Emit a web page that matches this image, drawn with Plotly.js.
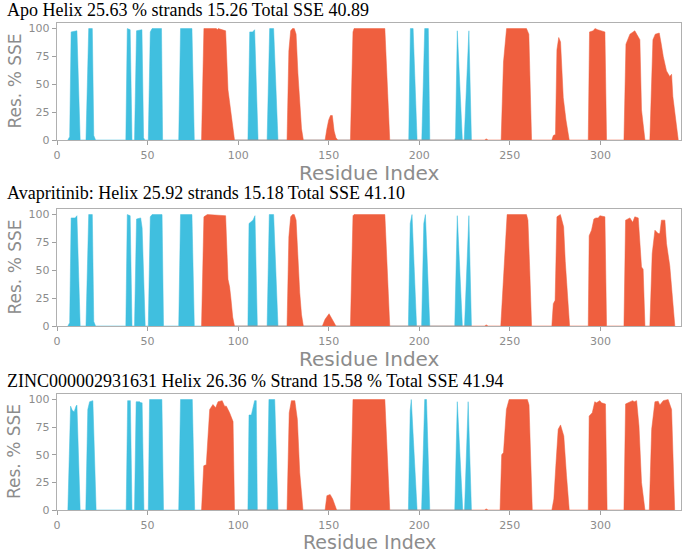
<!DOCTYPE html>
<html>
<head>
<meta charset="utf-8">
<script src="https://cdn.plot.ly/plotly-3.0.1.min.js"></script>
<style>
  body { margin: 0; background: #ffffff; }
  #chart { width: 685px; height: 555px; }
</style>
</head>
<body>
<div id="chart"></div>
<script>
// panel titles
var panelTitles = [
  "Apo Helix 25.63 % strands 15.26 Total SSE 40.89",
  "Avapritinib: Helix 25.92 strands 15.18 Total SSE 41.10",
  "ZINC000002931631 Helix 26.36 % Strand 15.58 % Total SSE 41.94"
];

// Apo : strands (blue)
var apoStrandX = [6, 7, 7.8, 11, 12.8,  16, 17.5, 19.5, 20.3, 21.3,  38, 38.8, 40.4, 41.4,
  42.8, 43.9, 46.9, 47.8, 48.5,  50.4, 51.5, 52.5, 57.7, 58.3,  67.2, 68.2, 74.5, 75.8,
  105.4, 106.4, 108, 109.1, 111,  116, 117.4, 119.6, 122,  194.2, 195.1, 196.6, 198.8,
  201.4, 203, 205, 205.8,  219.6, 220, 221, 223.8,  224.8, 227.4, 228.8];
var apoStrandY = [0, 3, 97, 98, 0,  0, 100, 100, 4, 0,  0, 100, 99, 0,
  0, 98, 99, 2, 0,  0, 97, 100, 100, 0,  0, 100, 100, 0,
  0, 97, 97, 99, 0,  0, 100, 100, 0,  0, 100, 100, 0,
  0, 100, 100, 0,  0, 2, 98, 0,  0, 98, 0];
// Apo : helix (red)
var apoHelixX = [79.8, 81.1, 88, 88.5, 89, 93.1, 94.4, 95, 96, 97, 98,
  127, 128, 129, 130, 131, 132, 133, 134, 135, 136,
  148, 149, 150, 151, 152, 153, 154, 155,
  162, 163.4, 164, 181, 183.7,  236, 237, 238,
  245.2, 246.5, 248.2, 259.2, 260.5, 262,
  273.2, 274, 275.2, 276, 277, 278, 279.5, 281, 282.8,
  293.3, 294, 296, 297, 298.5, 300, 302.5, 303.4,
  313, 314.1, 316.3, 319, 321.8, 322.7, 324.6,
  327.3, 329, 330.3, 332.5, 333.5, 334.7, 336.5, 338.3, 339.3, 340, 343];
var apoHelixY = [0, 100, 100, 99, 100, 98, 45, 38, 25, 10, 0,
  0, 80, 98, 100, 100, 95, 60, 30, 10, 0,
  0, 10, 18, 22, 22, 8, 2, 0,
  0, 97, 100, 100, 0,  0, 1, 0,
  0, 70, 100, 100, 95, 0,
  0, 4, 5, 81, 92, 88, 38, 18, 0,
  0, 97, 98, 100, 99, 98, 97, 0,
  0, 86, 95, 98, 90, 27, 0,
  0, 90, 95, 96, 87, 75, 62, 57, 59, 39, 0];

// Avapritinib : strands
var avaStrandX = [6, 7, 7.8, 10, 11, 12.8,  16, 17.5, 19.5, 20.3, 21.3,  38, 38.8, 40.4, 41.4,
  42.8, 43.9, 46.2, 47, 48, 48.7,  50.4, 51.5, 52.5, 58, 58.8,  67.2, 68.2, 74.5, 75.8,
  105.4, 106, 108.2, 109.3, 110.6,  116, 117.2, 119.6, 122,  194, 195, 196, 198.5,
  201.3, 202.5, 203.4, 205.8,  219.6, 221, 223.8,  225, 227.4, 228.8];
var avaStrandY = [0, 3, 97, 97, 99, 0,  0, 100, 100, 4, 0,  0, 100, 99, 0,
  0, 96, 97, 88, 20, 0,  0, 98, 100, 100, 0,  0, 100, 100, 0,
  0, 92, 95, 99, 0,  0, 100, 100, 0,  0, 92, 100, 0,
  0, 92, 100, 0,  0, 99, 0,  0, 99, 0];
// Avapritinib : helix
var avaHelixX = [79.8, 81.1, 83, 93.1, 94.4, 95.3, 96, 97, 98,
  127, 128, 129, 130, 131, 132, 133, 134, 135, 136,
  146.5, 148, 150.2, 152.4, 154,
  162, 163.4, 164, 181, 183.7,  236, 237, 238,
  245, 246.4, 247.7, 248.5, 259.2, 260, 261, 262,
  273.2, 274, 275, 276, 277.9, 279.7, 280.6, 283,
  293.3, 293.8, 295.1, 296.4, 297.5, 298.8, 299.7, 302.5, 303.4,
  313, 313.9, 316.3, 317.8, 319, 320.9, 322.7, 323.6, 324.6,
  327.3, 328.6, 330.1, 331.9, 332.8, 333.7, 335.6, 336.5, 338.3, 341.1];
var avaHelixY = [0, 98, 100, 99, 42, 35, 25, 8, 0,
  0, 80, 98, 100, 100, 95, 60, 30, 10, 0,
  0, 6, 11, 4, 0,
  0, 99, 100, 100, 0,  0, 1, 0,
  0, 40, 86, 100, 100, 95, 50, 0,
  0, 20, 23, 98, 100, 89, 58, 0,
  0, 81, 86, 96, 97, 97, 99, 98, 0,
  0, 95, 97, 93, 98, 97, 53, 51, 0,
  0, 65, 86, 83, 83, 95, 95, 74, 54, 0];

// ZINC000002931631 : strands
var zincStrandX = [6, 7.5, 8.5, 9.5, 10.5, 11, 12.8,  15.9, 17, 18, 19.8, 21.6,  38.2, 39, 40.5, 41.4,
  42.8, 43.7, 45.6, 46.3, 47, 48,  50.4, 51.1, 57.9, 58.8,  67.2, 68.2, 74.7, 76,
  105.4, 106, 107.3, 109.1, 110, 110.6,  116, 117, 120.2, 122,  194, 195, 195.6, 198.8,
  201.3, 203, 204, 205.8,  219.6, 221, 224,  225, 227, 228.8];
var zincStrandY = [0, 94, 90, 89, 94, 95, 0,  0, 91, 98, 99, 0,  0, 99, 99, 0,
  0, 98, 98, 97, 97, 0,  0, 100, 100, 0,  0, 100, 100, 0,
  0, 86, 86, 99, 99, 0,  0, 100, 100, 0,  0, 90, 100, 0,
  0, 100, 100, 0,  0, 98, 0,  0, 98, 0];
// ZINC000002931631 : helix
var zincHelixX = [79.8, 81, 82.4, 84.3, 86.1, 87.6, 88.9, 91.2, 92.5, 93.5, 95.3, 96.8, 97.2, 98,
  127, 128.2, 129.4, 131.3, 132.7, 134, 135.8,
  148, 149, 150.8, 152.2, 154.4,
  162, 163.4, 181, 183.7,  236, 237, 238,
  244.6, 245.5, 246.5, 248.1, 249.6, 259.7, 260.6, 262.4,
  273.2, 274.3, 275.4, 276.7, 278, 279.8, 281.3, 282.8,
  293.3, 293.8, 295.5, 296.9, 297.8, 299.7, 300.6, 302.8, 303.7,
  313, 313.9, 316.3, 317.8, 318.7, 320, 321.3, 322.7, 324.6,
  327, 328.3, 330.1, 331.9, 332.8, 334.7, 337.4, 339.3, 341];
var zincHelixY = [0, 40, 41, 91, 95.5, 92.5, 98, 99, 94, 94, 88, 82, 80, 0,
  0, 88, 99, 99, 82, 34, 0,
  0, 13, 14, 10, 0,
  0, 100, 100, 0,  0, 1, 0,
  0, 50, 52, 91, 100, 100, 95, 0,
  0, 10, 40, 73, 77, 67, 31, 0,
  0, 85, 88, 98, 97, 99, 97, 96, 0,
  0, 96, 98, 99, 98, 99, 76, 25, 0,
  0, 73, 98, 98.5, 95, 99, 100, 91, 0];

var xTickVals = [0, 50, 100, 150, 200, 250, 300];
var yTickVals = [0, 25, 50, 75, 100];

var strandColor = '#40bfdf';
var helixColor = '#ef5f3f';
var grey = '#8c8c8c';
var W = 685, H = 555;

// pixel boxes of the three panels (top, bottom)
var panels = [
  {top: 23, bottom: 140, sx: apoStrandX, sy: apoStrandY, hx: apoHelixX, hy: apoHelixY},
  {top: 209, bottom: 326, sx: avaStrandX, sy: avaStrandY, hx: avaHelixX, hy: avaHelixY},
  {top: 394, bottom: 510, sx: zincStrandX, sy: zincStrandY, hx: zincHelixX, hy: zincHelixY}
];
var titleMid = [10, 193, 381];

var traces = [];
var layout = {
  width: W,
  height: H,
  margin: {l: 0, r: 0, t: 0, b: 0},
  paper_bgcolor: '#ffffff',
  plot_bgcolor: '#ffffff',
  showlegend: false,
  font: {family: 'DejaVu Sans', color: grey},
  annotations: []
};

panels.forEach(function(p, i) {
  var n = (i == 0) ? '' : String(i + 1);
  traces.push({
    x: p.sx, y: p.sy, type: 'scatter', mode: 'lines', fill: 'tozeroy',
    line: {color: strandColor, width: 0.5}, fillcolor: strandColor,
    xaxis: 'x' + n, yaxis: 'y' + n, hoverinfo: 'skip'
  });
  traces.push({
    x: p.hx, y: p.hy, type: 'scatter', mode: 'lines', fill: 'tozeroy',
    line: {color: helixColor, width: 0.5}, fillcolor: helixColor,
    xaxis: 'x' + n, yaxis: 'y' + n, hoverinfo: 'skip'
  });
  var axisBase = {
    showgrid: false,
    zeroline: false,
    showline: true,
    mirror: true,
    linecolor: '#b0b0b0',
    linewidth: 1.3,
    ticks: 'outside',
    ticklen: 4,
    tickwidth: 1,
    tickcolor: '#a0a0a0',
    tickfont: {family: 'DejaVu Sans', size: 11, color: grey}
  };
  layout['xaxis' + n] = Object.assign({}, axisBase, {
    domain: [57 / W, 681 / W],
    range: [0, 344.5],
    tickvals: xTickVals,
    anchor: 'y' + n
  });
  layout['yaxis' + n] = Object.assign({}, axisBase, {
    domain: [1 - p.bottom / H, 1 - p.top / H],
    range: [0, 105],
    tickvals: yTickVals,
    anchor: 'x' + n
  });
  // panel title
  layout.annotations.push({
    text: panelTitles[i], xref: 'paper', yref: 'paper',
    x: 5 / W, y: 1 - titleMid[i] / H, xanchor: 'left', yanchor: 'middle',
    showarrow: false, font: {family: 'Liberation Serif', size: 18, color: '#000000'}
  });
  // x axis title; the last one sits on the bottom edge of the page
  var last = (i == panels.length - 1);
  layout.annotations.push({
    text: 'Residue Index', xref: 'paper', yref: 'paper',
    x: 369 / W, y: last ? 0 : 1 - (p.bottom + 33) / H,
    xanchor: 'center', yanchor: last ? 'bottom' : 'middle',
    showarrow: false, font: {family: 'DejaVu Sans', size: last ? 19 : 20, color: grey}
  });
  // y axis title
  layout.annotations.push({
    text: 'Res. % SSE', xref: 'paper', yref: 'paper',
    x: 14 / W, y: 1 - (p.top + p.bottom) / 2 / H, xanchor: 'center', yanchor: 'middle',
    textangle: -90, showarrow: false, font: {family: 'DejaVu Sans', size: 17, color: grey}
  });
});

Plotly.newPlot('chart', traces, layout, {staticPlot: true, displayModeBar: false});
</script>
</body>
</html>
